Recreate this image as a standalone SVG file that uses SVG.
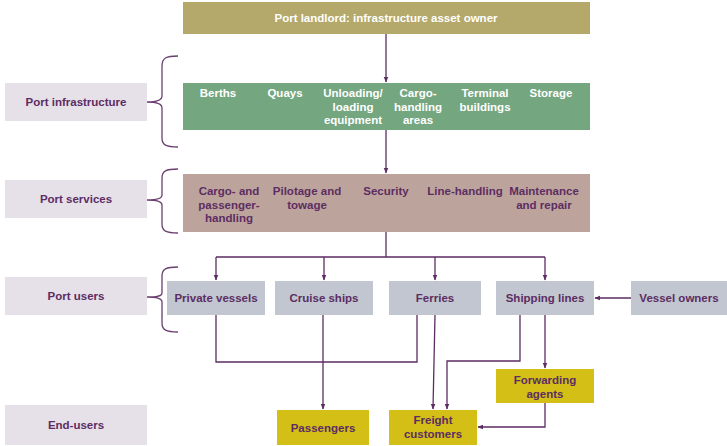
<svg xmlns="http://www.w3.org/2000/svg" width="727" height="446" viewBox="0 0 727 446">
<defs>
<marker id="ah" viewBox="0 0 10 10" refX="9" refY="5" markerWidth="6" markerHeight="6" orient="auto" markerUnits="userSpaceOnUse">
<path d="M0,1 L10,5 L0,9 Z" fill="#5c2d62"/>
</marker>
<style>
text{font-family:"Liberation Sans Narrow","Liberation Sans",Arial,sans-serif;font-size:11.5px;font-weight:bold;text-anchor:middle}
.w{fill:#ffffff}
.p{fill:#5c2d62}
.lab{fill:#e6e0e9}
.usr{fill:#c1c6d0}
.end{fill:#d4bf16}
.ln{fill:none;stroke:#5c2d62;stroke-width:1.3}
.br{fill:none;stroke:#6b3f70;stroke-width:1.3}
</style>
</defs>
<rect width="727" height="446" fill="#ffffff"/>

<g id="landlord"><rect x="183" y="2" width="407" height="32" fill="#b4a96a"/><text class="w" x="386" y="22">Port landlord: infrastructure asset owner</text></g>

<g id="infrastructure"><rect x="183" y="83" width="407" height="47" fill="#74a67f"/>
<text class="w" x="218" y="97">Berths</text>
<text class="w" x="285" y="97">Quays</text>
<text class="w" x="353" y="97">Unloading/</text><text class="w" x="353" y="110.5">loading</text><text class="w" x="353" y="124">equipment</text>
<text class="w" x="418" y="97">Cargo-</text><text class="w" x="418" y="110.5">handling</text><text class="w" x="418" y="124">areas</text>
<text class="w" x="485" y="97">Terminal</text><text class="w" x="485" y="110.5">buildings</text>
<text class="w" x="551" y="97">Storage</text>
</g>

<g id="services"><rect x="183" y="174" width="407" height="58" fill="#bca49c"/>
<text class="p" x="229" y="195">Cargo- and</text><text class="p" x="229" y="208.5">passenger-</text><text class="p" x="229" y="222">handling</text>
<text class="p" x="307" y="195">Pilotage and</text><text class="p" x="307" y="208.5">towage</text>
<text class="p" x="386" y="195">Security</text>
<text class="p" x="465" y="195">Line-handling</text>
<text class="p" x="544" y="195">Maintenance</text><text class="p" x="544" y="208.5">and repair</text>
</g>

<g id="label-infrastructure"><rect class="lab" x="5" y="83" width="142" height="38"/><text class="p" x="76" y="106">Port infrastructure</text></g>
<g id="label-services"><rect class="lab" x="5" y="180" width="142" height="38"/><text class="p" x="76" y="203">Port services</text></g>
<g id="label-users"><rect class="lab" x="5" y="277" width="142" height="38"/><text class="p" x="76" y="300">Port users</text></g>
<g id="label-endusers"><rect class="lab" x="5" y="405" width="142" height="40"/><text class="p" x="76" y="429">End-users</text></g>

<g id="private-vessels"><rect class="usr" x="167" y="281" width="98" height="34"/><text class="p" x="216" y="302">Private vessels</text></g>
<g id="cruise-ships"><rect class="usr" x="275" y="281" width="98" height="34"/><text class="p" x="324" y="302">Cruise ships</text></g>
<g id="ferries"><rect class="usr" x="389" y="281" width="92" height="34"/><text class="p" x="435" y="302">Ferries</text></g>
<g id="shipping-lines"><rect class="usr" x="496" y="281" width="98" height="34"/><text class="p" x="545" y="302">Shipping lines</text></g>
<g id="vessel-owners"><rect class="usr" x="631" y="281" width="96" height="34"/><text class="p" x="679" y="302">Vessel owners</text></g>

<g id="forwarding-agents"><rect class="end" x="496" y="369" width="98" height="34"/><text class="p" x="545" y="384">Forwarding</text><text class="p" x="545" y="397.5">agents</text></g>
<g id="passengers"><rect class="end" x="277" y="410" width="92" height="35"/><text class="p" x="323" y="432">Passengers</text></g>
<g id="freight-customers"><rect class="end" x="389" y="410" width="88" height="35"/><text class="p" x="433" y="424">Freight</text><text class="p" x="433" y="438">customers</text></g>

<g id="brackets">
<path class="br" d="M178,56 C166,56 162,58 162,66 L162,96 C162,100 158,102 147,102 C158,102 162,104 162,108 L162,138 C162,145 166,147 178,147"/>
<path class="br" d="M178,169 C166,169 162,171 162,178 L162,195 C162,198 158,200 147,200 C158,200 162,202 162,205 L162,224 C162,231 166,233 178,233"/>
<path class="br" d="M178,267 C166,267 162,269 162,276 L162,293 C162,296 158,297 147,297 C158,297 162,299 162,302 L162,323 C162,330 166,332 178,332"/>
</g>

<g id="connectors">
<path class="ln" d="M386,34 L386,82" marker-end="url(#ah)"/>
<path class="ln" d="M386,130 L386,173" marker-end="url(#ah)"/>
<path class="ln" d="M386,232 L386,257 M216,257 L545,257"/>
<path class="ln" d="M216,257 L216,280" marker-end="url(#ah)"/>
<path class="ln" d="M324,257 L324,280" marker-end="url(#ah)"/>
<path class="ln" d="M435,257 L435,280" marker-end="url(#ah)"/>
<path class="ln" d="M545,257 L545,280" marker-end="url(#ah)"/>
<path class="ln" d="M631,298 L595,298" marker-end="url(#ah)"/>
<path class="ln" d="M216,315 L216,362 L417,362 L417,315"/>
<path class="ln" d="M323,315 L323,409" marker-end="url(#ah)"/>
<path class="ln" d="M435,315 L433,409" marker-end="url(#ah)"/>
<path class="ln" d="M520,315 L520,361 L447,361 L447,409" marker-end="url(#ah)"/>
<path class="ln" d="M545,315 L545,368" marker-end="url(#ah)"/>
<path class="ln" d="M545,403 L545,427 L478,427" marker-end="url(#ah)"/>
</g>
</svg>
